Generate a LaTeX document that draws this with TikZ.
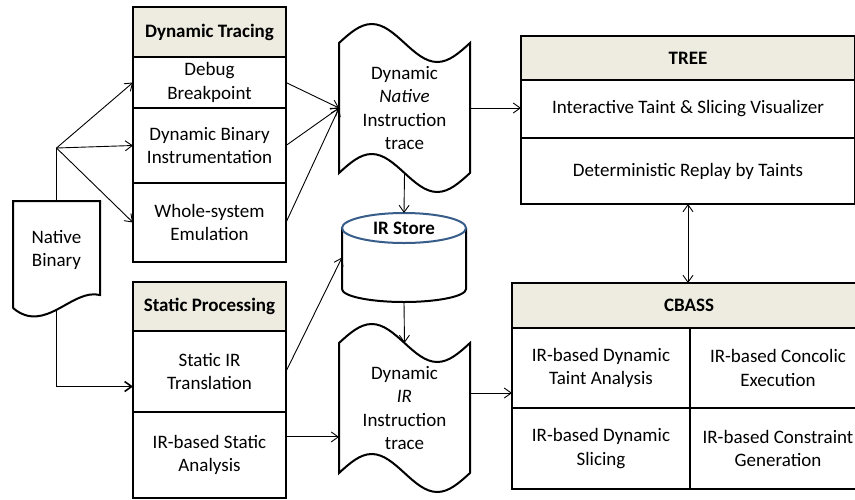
\documentclass[tikz,border=0pt]{standalone}
\usepackage{fontspec}
\setmainfont{Carlito}
\usetikzlibrary{positioning,calc,arrows.meta}

\definecolor{hdrfill}{HTML}{EEECE1}
\definecolor{dbline}{HTML}{385D8A}
\newcommand{\figfont}{\fontsize{19}{23.3}\selectfont}

\tikzset{
  boxline/.style={line width=2pt},
  cell/.style={draw, boxline, fill=white, align=center, inner sep=0pt, outer sep=0pt},
  hdr/.style={cell, fill=hdrfill, font=\figfont\bfseries},
  plain/.style={align=center, inner sep=0pt, outer sep=0pt},
  arr/.style={line width=0.9pt, -{Straight Barb[length=7pt,width=10pt]}},
  trunk/.style={line width=1.6pt},
}

% wavy outline of a trace (punched tape) round a node
\newcommand{\tapeoutline}[1]{%
  \draw[boxline] (#1.north west)
    sin ($(#1.north west)!0.25!(#1.north east)+(0,-19)$)
    cos ($(#1.north west)!0.5!(#1.north east)$)
    sin ($(#1.north west)!0.75!(#1.north east)+(0,19)$)
    cos (#1.north east) -- (#1.south east)
    sin ($(#1.south west)!0.75!(#1.south east)+(0,19)$)
    cos ($(#1.south west)!0.5!(#1.south east)$)
    sin ($(#1.south west)!0.25!(#1.south east)+(0,-19)$)
    cos (#1.south west) -- cycle;}

\begin{document}
\begin{tikzpicture}[x=1pt, y=-1pt, font=\figfont]
\useasboundingbox (0,0) rectangle (855,499);

% dynamic tracing
\node[hdr, minimum width=153pt, minimum height=50pt] (dth) at (209.5,32) {Dynamic Tracing};
\node[cell, minimum width=153pt, minimum height=51pt, below=0pt of dth] (dbg) {Debug\\Breakpoint};
\node[cell, minimum width=153pt, minimum height=75pt, below=0pt of dbg] (dbi) {Dynamic Binary\\Instrumentation};
\node[cell, minimum width=153pt, minimum height=79pt, below=0pt of dbi] (wse) {Whole-system\\Emulation};

% static processing
\node[hdr, minimum width=153pt, minimum height=49pt] (sph) at (209.5,306.5) {Static Processing};
\node[cell, minimum width=153pt, minimum height=81pt, below=0pt of sph] (sirt) {Static IR\\Translation};
\node[cell, minimum width=153pt, minimum height=86pt, below=0pt of sirt] (sira) {IR-based Static\\Analysis};

% native binary (document)
\node[plain, minimum width=87pt, minimum height=98pt] (nbin) at (56.5,250) {Native\\Binary};
\draw[boxline] ($(nbin.south west)+(0,9)$) -- (nbin.north west) -- (nbin.north east)
  -- ($(nbin.south east)+(0,-4)$) .. controls +(-28,-7) and +(32,27) .. ($(nbin.south west)+(0,9)$);

% traces
\node[plain, minimum width=131pt, minimum height=130pt] (ntrace) at (404.5,108)
  {Dynamic\\\textit{Native}\\Instruction\\trace};
\tapeoutline{ntrace}
\node[plain, minimum width=131pt, minimum height=130pt] (itrace) at (404.5,408)
  {Dynamic\\\textit{IR}\\Instruction\\trace};
\tapeoutline{itrace}

% IR store (cylinder)
\node[plain, minimum width=124pt, minimum height=89pt] (irs) at (404,257.5) {};
\draw[boxline, fill=white] ($(irs.north west)+(0,15)$) -- ($(irs.south west)+(0,-13)$)
  arc[start angle=180, end angle=0, x radius=62, y radius=13] -- ($(irs.north east)+(0,15)$);
\draw[boxline, draw=dbline, fill=white] ($(irs.north)+(0,15)$) ellipse [x radius=62, y radius=15];
\node[font=\figfont\bfseries] (irst) at ($(irs.north)+(0,15)$) {IR Store};

% TREE
\node[hdr, minimum width=334pt, minimum height=44pt] (treh) at (688,58) {TREE};
\node[cell, minimum width=334pt, minimum height=58pt, below=0pt of treh] (itv) {Interactive Taint \& Slicing Visualizer};
\node[cell, minimum width=334pt, minimum height=66pt, below=0pt of itv] (drt) {Deterministic Replay by Taints};

% CBASS
\node[hdr, minimum width=354pt, minimum height=45pt] (cbh) at (689,305.5) {CBASS};
\node[cell, minimum width=178pt, minimum height=80pt, anchor=north west] (dta) at (cbh.south west) {IR-based Dynamic\\Taint Analysis};
\node[cell, minimum width=176pt, minimum height=80pt, anchor=north west] (cce) at (dta.north east) {IR-based Concolic\\Execution};
\node[cell, minimum width=178pt, minimum height=81pt, anchor=north west] (dsl) at (dta.south west) {IR-based Dynamic\\Slicing};
\node[cell, minimum width=176pt, minimum height=81pt, anchor=north west] (cgen) at (dsl.north east) {IR-based Constraint\\Generation};

% connectors
\draw[trunk] (nbin.north) -- ++(0,-53) coordinate (fork);
\foreach \t in {dbg,dbi,wse} \draw[arr] (fork) -- (\t.west);
\draw[trunk, -{Straight Barb[length=7pt,width=10pt]}] ($(nbin.south)+(0,10)$) |- ($(sirt.west)+(0,15)$);
\foreach \s in {dbg,dbi,wse} \draw[arr] (\s.east) -- (ntrace.west);
\draw[arr] (ntrace.south) -- (irs.north);
\draw[arr] (sirt.east) -- (irs.west);
\draw[arr] (irs.south) -- (itrace.north);
\coordinate (sal) at ($(sira.north east)!0.29!(sira.south east)$);
\draw[arr] (sal) -- (sal -| itrace.west);
\draw[arr] (ntrace.east) -- (ntrace.east -| itv.west);
\coordinate (irout) at ($(itrace.east)+(0,-15)$);
\draw[arr] (irout) -- (irout -| dta.west);
\draw[line width=0.9pt, {Straight Barb[length=7pt,width=10pt]}-{Straight Barb[length=7pt,width=10pt]}]
  (drt.south) -- (drt.south |- cbh.north);
\end{tikzpicture}
\end{document}
